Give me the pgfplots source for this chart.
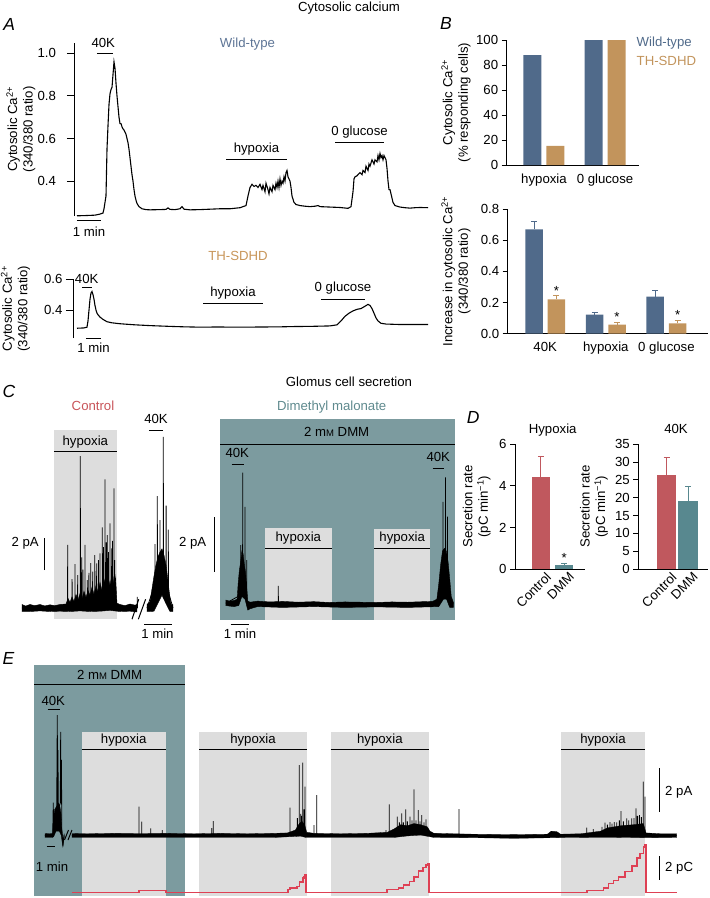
\documentclass[border=0pt]{standalone}
\usepackage{pgfplots}
\pgfplotsset{compat=1.18}
\usepackage{fontspec}
\setmainfont{Liberation Sans}
\definecolor{wt}{RGB}{80,106,138}
\definecolor{th}{RGB}{194,148,92}
\definecolor{ctrl}{RGB}{192,88,94}
\definecolor{dmm}{RGB}{88,136,143}
\definecolor{tealbg}{RGB}{124,155,159}
\definecolor{lgray}{RGB}{221,221,221}
\definecolor{redtr}{RGB}{222,64,84}
\definecolor{wttxt}{RGB}{94,117,150}
\definecolor{thtxt}{RGB}{200,150,90}
\definecolor{ctrltxt}{RGB}{200,85,90}
\definecolor{dmmtxt}{RGB}{95,138,142}
\newcommand{\fs}{\fontsize{13.2}{15.5}\selectfont}
\newcommand{\mM}{m{\fontsize{9.5}{10}\selectfont M}}
\pgfplotsset{
  every axis/.append style={font=\fs},
  tick label style={font=\fs},
  label style={font=\fs},
  onedec/.style={yticklabel style={/pgf/number format/fixed, /pgf/number format/fixed zerofill, /pgf/number format/precision=1}},
  trace/.style={scale only axis, anchor=south west, hide axis, clip=false},
  yonly/.style={scale only axis, anchor=south west, clip=false, axis x line=none, axis y line*=left,
    axis line style={-,line width=0.9pt}, tick align=outside, major tick length=7pt,
    tick style={line width=0.9pt, black}, xtick=\empty, onedec,
    /pgf/number format/assume math mode=true, ylabel style={align=center}},
  barax/.style={scale only axis, anchor=south west, clip=false, axis x line*=bottom, axis y line*=left,
    axis line style={-,line width=0.9pt}, tick align=outside, major tick length=5pt,
    tick style={line width=0.9pt,black}, x tick style={draw=none},
    /pgf/number format/assume math mode=true, ylabel style={align=center}, ybar},
}
\tikzset{lbl/.style={inner sep=0pt, text height=9.5pt, text depth=2.6pt, anchor=center},
  sb/.style={line width=1pt}}
\begin{document}
\begin{tikzpicture}[font=\fs]
\useasboundingbox (0pt,0pt) rectangle (710pt,-898pt);

% ---------------- A : wild-type
\begin{axis}[yonly, at={(74pt,-216pt)}, width=354pt, height=173.3pt,
  xmin=-7.5, xmax=877.5, ymin=0.236, ymax=1.05, ytick={0.4,0.6,0.8,1.0},
  yticklabel style={xshift=-7.5pt},
  ylabel={Cytosolic Ca\textsuperscript{2+}\\(340/380 ratio)},
  ylabel style={at={(axis description cs:-0.1501,0.5)}, anchor=center}]
\addplot[black, line width=1.1pt] coordinates {
(0,0.237) (20,0.238) (45,0.24) (57.5,0.245) (65,0.25) (67.5,0.27) (70,0.30) (72.5,0.33) (75,0.55) (77.5,0.66) (80,0.76) (82.5,0.81) (85,0.83) (87.5,0.84) (90,0.90) (92.5,0.96) (95,0.93) (97.5,0.86) (100,0.80) (102.5,0.75) (105,0.70) (107.5,0.67) (110,0.67) (112.5,0.655) (115,0.645) (117.5,0.64) (120,0.63) (122.5,0.62) (125,0.60) (127.5,0.58) (130,0.55) (132.5,0.51) (135,0.47) (137.5,0.43) (140,0.40) (142.5,0.36) (145,0.33) (147.5,0.31) (150,0.295) (155,0.28) (162.5,0.27) (172.5,0.266) (182.5,0.265) (207.5,0.266) (222.5,0.267) (227.5,0.274) (232.5,0.267) (245,0.266) (257.5,0.27) (262.5,0.28) (267.5,0.268) (282.5,0.265) (307.5,0.266) (332.5,0.268) (357.5,0.27) (382.5,0.27) (407.5,0.275) (422.5,0.285) (427.5,0.33) (432.5,0.37) (437.5,0.385) (442.5,0.375) (447.5,0.38) (452.5,0.37) (457.5,0.385) (462.5,0.36) (465,0.38) (470,0.35) (472.5,0.39) (477.5,0.36) (480,0.34) (482.5,0.37) (487.5,0.35) (490,0.38) (495,0.36) (497.5,0.39) (500,0.37) (502.5,0.40) (505,0.37) (507.5,0.41) (510,0.38) (512.5,0.40) (515,0.39) (517.5,0.42) (520,0.40) (522.5,0.44) (525,0.45) (527.5,0.42) (530,0.41) (532.5,0.40) (535,0.37) (537.5,0.33) (542.5,0.30) (547.5,0.29) (557.5,0.285) (570,0.282) (582.5,0.28) (595,0.282) (602.5,0.285) (607.5,0.28) (632.5,0.278) (657.5,0.276) (677.5,0.272) (685,0.28) (690,0.35) (692.5,0.41) (695,0.42) (700,0.425) (702.5,0.43) (707.5,0.44) (712.5,0.43) (715,0.45) (720,0.44) (722.5,0.47) (727.5,0.45) (730,0.48) (732.5,0.47) (737.5,0.50) (742.5,0.48) (745,0.50) (750,0.49) (752.5,0.52) (755,0.50) (757.5,0.53) (760,0.51) (762.5,0.52) (765,0.50) (767.5,0.52) (770,0.51) (772.5,0.50) (775,0.46) (777.5,0.40) (780,0.36) (782.5,0.36) (785,0.34) (790,0.30) (795,0.285) (807.5,0.278) (820,0.275) (832.5,0.273) (845,0.275) (857.5,0.276) (877.5,0.275)};
\draw[sb] (axis cs:50,1.0) -- (axis cs:90,1.0);
\node[lbl] at (axis cs:65.75,1.044) {40K};
\node[lbl, text=wttxt] at (axis cs:426.25,1.044) {Wild-type};
\draw[sb] (axis cs:372.5,0.5037) -- (axis cs:525,0.5037);
\node[lbl] at (axis cs:448.75,0.551) {hypoxia};
\draw[sb] (axis cs:645,0.5836) -- (axis cs:767.5,0.5836);
\node[lbl] at (axis cs:706.25,0.6306) {0 glucose};
\draw[sb] (axis cs:0,0.2172) -- (axis cs:60,0.2172);
\node[lbl] at (axis cs:30,0.1562) {1 min};
\end{axis}

% ---------------- A : TH-SDHD
\begin{axis}[yonly, at={(73pt,-338pt)}, width=355pt, height=58.9pt,
  xmin=-16, xmax=1404, ymin=0.22, ymax=0.6, ytick={0.4,0.6},
  ylabel={Cytosolic Ca\textsuperscript{2+}\\(340/380 ratio)},
  ylabel style={at={(axis description cs:-0.162,0.5)}, anchor=center}]
\addplot[black, line width=1.1pt] coordinates {
(0,0.283) (28,0.285) (40,0.29) (44,0.33) (48,0.40) (52,0.47) (56,0.51) (60,0.52) (64,0.50) (68,0.47) (72,0.43) (76,0.40) (80,0.38) (84,0.37) (92,0.355) (104,0.34) (120,0.325) (140,0.318) (172,0.312) (232,0.305) (292,0.30) (372,0.295) (430,0.292) (492,0.29) (560,0.291) (652,0.29) (740,0.291) (812,0.292) (870,0.294) (932,0.295) (1012,0.298) (1040,0.305) (1056,0.33) (1072,0.36) (1088,0.38) (1104,0.395) (1120,0.405) (1136,0.41) (1152,0.425) (1164,0.437) (1172,0.43) (1180,0.41) (1188,0.38) (1196,0.35) (1204,0.33) (1216,0.315) (1236,0.31) (1292,0.307) (1404,0.307)};
\node[lbl, text=thtxt] at (axis cs:644,0.742) {TH-SDHD};
\draw[sb] (axis cs:20,0.548) -- (axis cs:60,0.548);
\node[lbl] at (axis cs:38.8,0.5935) {40K};
\draw[sb] (axis cs:504,0.445) -- (axis cs:744,0.445);
\node[lbl] at (axis cs:624,0.51) {hypoxia};
\draw[sb] (axis cs:976,0.471) -- (axis cs:1152,0.471);
\node[lbl] at (axis cs:1064,0.542) {0 glucose};
\draw[sb] (axis cs:36,0.2194) -- (axis cs:96,0.2194);
\node[lbl] at (axis cs:66,0.148) {1 min};
\end{axis}

% ---------------- B : % responding
\begin{axis}[barax, at={(506.7pt,-165pt)}, width=132.3pt, height=125pt,
  xmin=-0.611, xmax=1.557, ymin=0, ymax=100, ytick={0,20,...,100},
  xtick={0,1}, xticklabels={hypoxia,0 glucose}, bar width=18pt,
  ylabel={Cytosolic Ca\textsuperscript{2+}\\(\% responding cells)},
  ylabel style={at={(axis description cs:-0.383,0.5)}, anchor=center}]
\addplot[fill=wt, draw=none, bar shift=-11.5pt] coordinates {(0,88) (1,100)};
\addplot[fill=th, draw=none, bar shift=11.5pt] coordinates {(0,15.4) (1,100)};
\end{axis}
\node[anchor=west, inner sep=0pt, text=wt] at (636.5pt,-42.7pt) {Wild-type};
\node[anchor=west, inner sep=0pt, text=th] at (636.5pt,-61pt) {TH-SDHD};

% ---------------- B : increase
\begin{axis}[barax, onedec, at={(507.7pt,-333.5pt)}, width=200.3pt, height=124.2pt,
  xmin=-0.619, xmax=2.686, ymin=0, ymax=0.8, ytick={0,0.2,...,0.8},
  xtick={0,1,2}, xticklabels={40K,hypoxia,0 glucose}, bar width=17.5pt,
  ylabel={Increase in cytosolic Ca\textsuperscript{2+}\\(340/380 ratio)},
  ylabel style={at={(axis description cs:-0.258,0.5)}, anchor=center}]
\addplot[fill=wt, draw=none, bar shift=-11.2pt, error bars/.cd, y dir=plus, y explicit,
  error bar style={line width=1pt, draw=wt}, error mark options={rotate=90, mark size=3pt, line width=1pt, draw=wt}]
  coordinates {(0,0.67) +- (0,0.05) (1,0.121) +- (0,0.016) (2,0.237) +- (0,0.037)};
\addplot[fill=th, draw=none, bar shift=11.2pt, error bars/.cd, y dir=plus, y explicit,
  error bar style={line width=1pt, draw=th}, error mark options={rotate=90, mark size=3pt, line width=1pt, draw=th}]
  coordinates {(0,0.22) +- (0,0.023) (1,0.057) +- (0,0.015) (2,0.066) +- (0,0.019)};
\node[anchor=base, inner sep=0pt, xshift=11.2pt] at (axis cs:0,0.247) {*};
\node[anchor=base, inner sep=0pt, xshift=11.2pt] at (axis cs:1,0.077) {*};
\node[anchor=base, inner sep=0pt, xshift=11.2pt] at (axis cs:2,0.091) {*};
\end{axis}

% ---------------- C : control
\begin{axis}[trace, at={(22pt,-624pt)}, width=153pt, height=200pt,
  xmin=0, xmax=336.6, ymin=-1, ymax=11.5]
\fill[lgray] (axis cs:70.4,-0.706) rectangle (axis cs:208.3,11.125);
\draw[sb] (axis cs:70.4,9.81) -- (axis cs:208.3,9.81);
\node[lbl] at (axis cs:139.3,10.39) {hypoxia};
\draw[sb] (axis cs:279.4,11.125) -- (axis cs:310.2,11.125);
\node[lbl] at (axis cs:294.8,11.75) {40K};
\addplot[fill=black, draw=black, line width=0.4pt] coordinates {
(0,0.22) (8,0.12) (17.6,0.22) (28,0.15) (39.6,0.22) (50,0.13) (61.6,0.2) (72,0.15) (83.6,0.22) (96.8,0.25) (101.2,0.6) (105.6,0.35) (110,0.7) (114.4,0.4) (118.8,0.85) (123.2,0.5) (127.6,0.9) (132,0.55) (136.4,1.05) (140.8,0.65) (145.2,1.1) (149.6,0.8) (154,1.3) (158.4,0.85) (162.8,1.4) (167.2,1.0) (171.6,1.6) (176,1.1) (180.4,1.8) (184.8,1.3) (189.2,1.95) (193.6,1.4) (198,2.1) (202.4,1.5) (205.7,1.9) (209,0.3) (215.6,0.22) (226.6,0.15) (237.6,0.25) (248.6,0.18) (253,0.22)
(253,-0.25) (237.6,-0.2) (215.6,-0.22) (193.6,-0.15) (171.6,-0.2) (149.6,-0.22) (127.6,-0.18) (105.6,-0.22) (83.6,-0.2) (61.6,-0.22) (39.6,-0.18) (17.6,-0.22) (0,-0.22)};
\addplot[black, line width=0.8pt] coordinates {
(0,0) (100.3,0) (100.5,3.94) (100.7,0.3) (110,0.3) (110.2,1.8) (110.4,0.3) (116.4,0.3) (116.6,2.75) (116.8,0.3) (122.3,0.3) (122.5,2.06) (122.7,0.3) (128.1,0.4) (128.3,9.5) (128.5,0.4) (131.1,0.4) (131.3,3.17) (131.5,0.4) (134,0.4) (134.2,2.4) (134.4,0.4) (138.4,0.4) (138.6,3.94) (138.8,0.4) (143.5,0.4) (143.7,1.75) (143.9,0.4) (147,0.4) (147.2,2.2) (147.4,0.4) (151,0.4) (151.2,2.8) (151.4,0.4) (155.3,0.5) (155.5,2.27) (155.7,0.5) (160,0.5) (160.2,3.3) (160.4,0.5) (164.1,0.5) (164.3,2.79) (164.5,0.5) (168,0.5) (168.2,3.0) (168.4,0.5) (171.4,0.5) (171.6,3.42) (171.8,0.5) (176.5,0.5) (176.7,5.04) (176.9,0.5) (179,0.5) (179.2,3.8) (179.4,0.5) (182.4,0.5) (182.6,8.04) (182.8,0.5) (185,0.5) (185.2,4.1) (185.4,0.5) (187.5,0.5) (187.7,4.56) (187.9,0.5) (190,0.5) (190.2,3.5) (190.4,0.5) (193.4,0.5) (193.6,5.29) (193.8,0.5) (197.1,0.5) (197.3,3.73) (197.5,0.5) (199,0.5) (199.2,4.2) (199.4,0.5) (202.2,0.5) (202.4,7.48) (202.6,0.5) (204,0.5) (204.2,3.0) (204.4,0.5) (205.9,0.5) (206.1,1.33) (206.3,0) (253.5,0) (253.7,0.7) (253.9,0)};
\addplot[fill=black, draw=black, line width=0.4pt] coordinates {
(275,0.22) (281.6,0.4) (286,1.2) (290.4,2.0) (294.8,2.7) (299.2,3.2) (303.6,3.5) (308,3.7) (312.4,3.3) (316.8,2.7) (321.2,1.7) (325.6,0.6) (327.8,0.22) (332.2,0.22)
(332.2,-0.22) (325.6,-0.22) (318,0.2) (308,0.8) (299.2,0.3) (290.4,-0.2) (281.6,-0.22) (275,-0.22)};
\addplot[black, line width=0.8pt] coordinates {
(275,0) (292.4,1.5) (292.6,4.0) (292.8,1.5) (297.5,2) (297.7,7.0) (297.9,2) (303.4,2.5) (303.6,5.5) (303.8,2.5) (310.7,2.5) (310.9,10.7) (311.1,2.5) (316.9,2) (317.1,6.4) (317.3,2) (321.7,1) (321.9,4.9) (322.1,1) (332.2,0)};
\draw[line width=1pt] (axis cs:242,-0.7) -- (axis cs:257,0.55);
\draw[line width=1pt] (axis cs:256,-0.7) -- (axis cs:272,0.55);
\draw[sb] (axis cs:50.6,2.375) -- (axis cs:50.6,4.375);
\node[lbl, anchor=east] at (axis cs:37.4,4.06) {2 pA};
\draw[sb] (axis cs:269,-1.02) -- (axis cs:329,-1.02);
\node[lbl] at (axis cs:298,-1.72) {1 min};
\end{axis}

% ---------------- C : DMM
\begin{axis}[trace, at={(220pt,-619.8pt)}, width=235pt, height=200.75pt,
  xmin=0, xmax=752, ymin=-0.6, ymax=6.7]
\fill[tealbg] (axis cs:0,-0.6) rectangle (axis cs:752,6.7);
\fill[lgray] (axis cs:144,-0.6) rectangle (axis cs:357.4,2.75);
\fill[lgray] (axis cs:493.8,-0.6) rectangle (axis cs:672,2.70);
\draw[sb] (axis cs:144,2.0) -- (axis cs:357.4,2.0);
\draw[sb] (axis cs:493.8,2.0) -- (axis cs:672,2.0);
\node[lbl] at (axis cs:250.6,2.364) {hypoxia};
\node[lbl] at (axis cs:583,2.364) {hypoxia};
\draw[sb] (axis cs:0,5.793) -- (axis cs:752,5.793);
\node[lbl] at (axis cs:373.4,6.2) {2 \mM{} DMM};
\draw[sb] (axis cs:37.4,5.065) -- (axis cs:76.8,5.065);
\node[lbl] at (axis cs:55.4,5.418) {40K};
\draw[sb] (axis cs:680.6,4.909) -- (axis cs:717.8,4.909);
\node[lbl] at (axis cs:698.6,5.27) {40K};
\addplot[fill=black, draw=black, line width=0.4pt] coordinates {
(18.2,0.12) (30,0.08) (45,0.1) (55,0.15) (58,0.7) (62,1.2) (66,1.5) (70,1.9) (74,1.8) (78,1.4) (82,1.1) (86,0.5) (89,0.08) (96,0.04) (120,0.08) (160,0.05) (200,0.07) (250,0.04) (300,0.06) (350,0.03) (400,0.05) (450,0.04) (500,0.03) (550,0.05) (600,0.04) (650,0.06) (680,0.07) (694,0.15) (700,0.7) (706,1.4) (712,1.9) (718,2.0) (724,1.9) (730,1.5) (735,0.9) (740,0.25) (746.6,0.04)
(746.6,-0.15) (735,-0.15) (725,0.15) (715,0.15) (700,-0.12) (600,-0.15) (500,-0.13) (400,-0.15) (300,-0.12) (200,-0.15) (120,-0.12) (96,-0.2) (89,-0.25) (80,0.15) (70,0.25) (60,-0.08) (45,-0.12) (30,-0.1) (18.2,-0.08)};
\addplot[black, line width=0.8pt] coordinates {
(18.2,0) (66,0.3) (66.2,2.12) (66.4,0.3) (72.4,0.5) (72.6,4.75) (72.8,0.5) (79.8,0.5) (80,3.51) (80.2,0.5) (85.2,0.3) (85.4,1.57) (85.6,0) (96,0) (186.4,0) (186.6,0.63) (186.8,0) (694,0) (713.2,0.5) (713.4,3.69) (713.6,0.5) (721.6,0.5) (721.8,4.58) (722,0.5) (727.8,0.4) (728,3.15) (728.2,0.3) (740,0) (746.6,0)};
\draw[sb] (axis cs:-19.2,1.149) -- (axis cs:-19.2,3.149);
\node[lbl, anchor=east] at (axis cs:-43.2,2.18) {2 pA};
\draw[sb] (axis cs:34.2,-0.764) -- (axis cs:93.8,-0.764);
\node[lbl] at (axis cs:64,-1.153) {1 min};
\end{axis}

% ---------------- D : hypoxia
\begin{axis}[barax, at={(515pt,-569pt)}, width=70pt, height=124.7pt,
  xmin=-1.109, xmax=1.895, ymin=0, ymax=6, ytick={0,2,4,6},
  xtick={0,1}, xticklabels={Control,DMM}, bar width=18.3pt,
  xticklabel style={rotate=45, anchor=north east, inner sep=1pt, xshift=6pt},
  ylabel={Secretion rate\\(pC min\textsuperscript{−1})},
  ylabel style={at={(axis description cs:-0.547,0.5)}, anchor=center}]
\addplot[fill=ctrl, draw=none, bar shift=0pt, error bars/.cd, y dir=plus, y explicit,
  error bar style={line width=1pt, draw=ctrl}, error mark options={rotate=90, mark size=3pt, line width=1pt, draw=ctrl}]
  coordinates {(0,4.45) +- (0,0.95)};
\addplot[fill=dmm, draw=none, bar shift=0pt, error bars/.cd, y dir=plus, y explicit,
  error bar style={line width=1pt, draw=dmm}, error mark options={rotate=90, mark size=3pt, line width=1pt, draw=dmm}]
  coordinates {(1,0.2) +- (0,0.08)};
\node[anchor=base, inner sep=0pt] at (axis cs:1,0.29) {*};
\end{axis}

% ---------------- D : 40K
\begin{axis}[barax, at={(638.3pt,-569pt)}, width=69.7pt, height=124.7pt,
  xmin=-1.312, xmax=1.930, ymin=0, ymax=35, ytick={0,5,...,35},
  xtick={0,1}, xticklabels={Control,DMM}, bar width=19.5pt,
  xticklabel style={rotate=45, anchor=north east, inner sep=1pt, xshift=6pt},
  ylabel={Secretion rate\\(pC min\textsuperscript{−1})},
  ylabel style={at={(axis description cs:-0.636,0.5)}, anchor=center}]
\addplot[fill=ctrl, draw=none, bar shift=0pt, error bars/.cd, y dir=plus, y explicit,
  error bar style={line width=1pt, draw=ctrl}, error mark options={rotate=90, mark size=3pt, line width=1pt, draw=ctrl}]
  coordinates {(0,26.3) +- (0,4.9)};
\addplot[fill=dmm, draw=none, bar shift=0pt, error bars/.cd, y dir=plus, y explicit,
  error bar style={line width=1pt, draw=dmm}, error mark options={rotate=90, mark size=3pt, line width=1pt, draw=dmm}]
  coordinates {(1,19.1) +- (0,4.1)};
\end{axis}

% ---------------- E : current
\begin{axis}[trace, at={(34pt,-896.26pt)}, width=646pt, height=232.19pt,
  xmin=0, xmax=4845, ymin=-2.8, ymax=7.9]
\fill[tealbg] (axis cs:2,-2.8) rectangle (axis cs:1132.5,7.857);
\fill[lgray] (axis cs:357.75,-2.8) rectangle (axis cs:987.75,4.783);
\fill[lgray] (axis cs:1239.75,-2.8) rectangle (axis cs:2045.25,4.783);
\fill[lgray] (axis cs:2225.25,-2.8) rectangle (axis cs:2962.5,4.783);
\fill[lgray] (axis cs:3952.5,-2.8) rectangle (axis cs:4582.5,4.783);
\draw[sb] (axis cs:357.75,3.963) -- (axis cs:987.75,3.963);
\draw[sb] (axis cs:1239.75,3.963) -- (axis cs:2045.25,3.963);
\draw[sb] (axis cs:2225.25,3.963) -- (axis cs:2962.5,3.963);
\draw[sb] (axis cs:3952.5,3.963) -- (axis cs:4582.5,3.963);
\node[lbl] at (axis cs:672.75,4.401) {hypoxia};
\node[lbl] at (axis cs:1642.5,4.401) {hypoxia};
\node[lbl] at (axis cs:2593.9,4.401) {hypoxia};
\node[lbl] at (axis cs:4267.5,4.401) {hypoxia};
\draw[sb] (axis cs:2,6.968) -- (axis cs:1132.5,6.968);
\node[lbl] at (axis cs:567.4,7.35) {2 \mM{} DMM};
\draw[sb] (axis cs:102.75,5.829) -- (axis cs:195,5.829);
\node[lbl] at (axis cs:144.75,6.138) {40K};
\addplot[fill=black, draw=black, line width=0.3pt] coordinates {
(82.5,0.09) (120,0.08) (140,0.1) (147,0.8) (155,1.2) (165,1.3) (175,1.4) (185,1.5) (195,1.3) (203,1.0) (209,0.3) (214,-0.1) (220,-0.25) (226,0.09)
(226,-0.1) (218,-0.5) (212,-0.35) (205,0.0) (190,0.2) (165,0.2) (148,-0.05) (140,-0.09) (82.5,-0.09)};
\addplot[black, line width=0.8pt] coordinates {
(82.5,0) (140,0) (144.75,1.51) (146,0.5) (170,1.0) (174.75,5.55) (176.5,1.2) (180,3.94) (182,1.2) (197,1.5) (200.25,4.78) (202,1.5) (206.25,3.48) (208,0.3) (216,-0.4) (226,0)};
\addplot[fill=black, draw=black, line width=0.3pt] coordinates {
(285,0.09) (400,0.08) (600,0.1) (800,0.09) (1000,0.1) (1200,0.08) (1400,0.1) (1600,0.08) (1800,0.1) (1900,0.12) (1960,0.25) (1990,0.55) (2010,0.65) (2030,0.5) (2045,0.15) (2100,0.1) (2300,0.08) (2500,0.1) (2650,0.15) (2700,0.3) (2750,0.5) (2800,0.45) (2850,0.55) (2900,0.5) (2950,0.4) (2970,0.2) (3000,0.1) (3300,0.06) (3600,0.04) (3850,0.06) (3880,0.2) (3920,0.18) (3950,0.06) (4100,0.08) (4250,0.2) (4300,0.35) (4400,0.45) (4500,0.5) (4570,0.55) (4590,0.12) (4700,0.08) (4820,0.08)
(4820,-0.09) (4600,-0.1) (4300,-0.08) (4000,-0.09) (3600,-0.13) (3300,-0.1) (3000,-0.09) (2900,0.02) (2800,-0.02) (2700,-0.09) (2400,-0.09) (2040,-0.09) (2000,-0.03) (1800,-0.09) (1400,-0.09) (1000,-0.09) (600,-0.09) (285,-0.09)};
\addplot[black, line width=0.8pt] coordinates {
(285,0) (787,0) (787.5,1.327) (788,0) (807.5,0) (807.75,0.636) (808,0) (875,0) (875.25,0.332) (875.5,0) (962,0) (962.25,0.253) (962.5,0) (1332.5,0) (1332.75,0.346) (1333,0) (1344.5,0) (1344.75,0.668) (1345,0) (1919.5,0) (1920,1.281) (1920.5,0) (1975,0.2) (1975.25,0.8) (1975.5,0.2) (1989.5,0.2) (1989.75,3.249) (1990,0.3) (2000,0.3) (2000.25,1.0) (2000.5,0.3) (2005,0.3) (2005.25,0.9) (2005.5,0.3) (2015,0.3) (2015.25,3.355) (2015.5,0.3) (2025,0.3) (2025.25,1.2) (2025.5,0.3) (2032.25,0.3) (2032.5,2.249) (2032.75,0.1) (2099.75,0) (2100,0.484) (2100.25,0) (2120,0) (2120.25,1.866) (2120.5,0) (2639.75,0) (2640,0.25) (2640.25,0) (2664.5,0) (2664.75,1.438) (2665,0) (2724.5,0.1) (2724.75,0.866) (2725,0.1) (2740,0.1) (2740.25,0.6) (2740.5,0.1) (2757.5,0.1) (2757.75,1.023) (2758,0.1) (2770,0.1) (2770.25,0.6) (2770.5,0.1) (2787.5,0.1) (2787.75,1.207) (2788,0.1) (2800,0.1) (2800.25,0.65) (2800.5,0.1) (2819.75,0.1) (2820,0.866) (2820.25,0.1) (2835,0.1) (2835.25,0.7) (2835.5,0.1) (2849.75,0.15) (2850,2.129) (2850.25,0.15) (2865,0.15) (2865.25,0.7) (2865.5,0.15) (2882,0.15) (2882.25,1.175) (2882.5,0.15) (2895,0.15) (2895.25,0.65) (2895.5,0.15) (2907.5,0.15) (2907.75,0.945) (2908,0.15) (2925,0.15) (2925.25,0.6) (2925.5,0.15) (2939.75,0.15) (2940,0.747) (2940.25,0.1) (3187.25,0) (3187.5,1.221) (3187.75,0) (4145,0) (4145.25,0.36) (4145.5,0) (4194.5,0) (4194.75,0.3) (4195,0) (4260,0.05) (4260.25,0.4) (4260.5,0.05) (4282.25,0.05) (4282.5,0.59) (4282.75,0.05) (4300,0.05) (4300.25,0.5) (4300.5,0.05) (4319.75,0.05) (4320,0.62) (4320.25,0.05) (4335,0.05) (4335.25,0.55) (4335.5,0.05) (4352,0.05) (4352.25,0.62) (4352.5,0.05) (4370,0.05) (4370.25,0.6) (4370.5,0.05) (4390,0.1) (4390.25,0.7) (4390.5,0.1) (4402.25,0.1) (4402.5,1.129) (4402.75,0.1) (4420,0.1) (4420.25,0.65) (4420.5,0.1) (4445,0.1) (4445.25,0.79) (4445.5,0.1) (4460,0.1) (4460.25,0.7) (4460.5,0.1) (4482.5,0.1) (4482.75,0.79) (4483,0.1) (4500,0.1) (4500.25,0.8) (4500.5,0.1) (4514.75,0.1) (4515,1.253) (4515.25,0.1) (4525,0.1) (4525.25,0.9) (4525.5,0.1) (4540.25,0.1) (4540.5,0.945) (4540.75,0.1) (4555,0.1) (4555.25,0.85) (4555.5,0.1) (4569.5,0.1) (4569.75,2.479) (4570,0.1) (4582.25,0.1) (4582.5,1.788) (4582.75,0) (4820.25,0)};
\draw[line width=1pt] (axis cs:228.75,-0.207) -- (axis cs:258.75,0.253);
\draw[line width=1pt] (axis cs:255,-0.207) -- (axis cs:285,0.253);
\draw[sb] (axis cs:4689.75,1.106) -- (axis cs:4689.75,3.106);
\node[lbl, anchor=west] at (axis cs:4732.5,2.018) {2 pA};
\draw[sb] (axis cs:95.25,-0.516) -- (axis cs:155.25,-0.516);
\node[lbl] at (axis cs:135,-1.511) {1 min};
\end{axis}

% ---------------- E : charge
\begin{axis}[trace, at={(34pt,-896.26pt)}, width=646pt, height=232.19pt,
  xmin=0, xmax=4845, ymin=-0.3, ymax=19.05]
\addplot[redtr, line width=1.6pt, const plot mark left] coordinates {
(282.75,0) (787.5,0.17) (870,0.18) (987.75,0) (1905,0.28) (1920,0.37) (1972.5,0.5) (1989.75,0.89) (2015.25,1.225) (2025,1.33) (2032.5,1.475) (2040,0) (2645.25,0.28) (2732.25,0.37) (2769.75,0.64) (2814.75,0.92) (2850,1.33) (2882.25,1.81) (2915.25,2.11) (2940,2.31) (2955,2.37) (2962.5,0) (4145.25,0.17) (4269.75,0.37) (4307.25,0.78) (4344.75,1.0) (4382.25,1.33) (4432.5,1.75) (4482.75,2.22) (4520.25,2.87) (4545,3.28) (4569.75,3.83) (4582.5,4.03) (4587.75,0) (4820.25,0)};
\draw[sb] (axis cs:4689.75,1.058) -- (axis cs:4689.75,3.058);
\node[lbl, anchor=west] at (axis cs:4732.5,2.03) {2 pC};
\end{axis}

% ---------------- titles and letters
\node[lbl] at (349pt,-8pt) {Cytosolic calcium};
\node[lbl] at (349pt,-382.7pt) {Glomus cell secretion};
\node[lbl, text=ctrltxt] at (93pt,-406.7pt) {Control};
\node[lbl, text=dmmtxt] at (331.7pt,-406.7pt) {Dimethyl malonate};
\node[lbl] at (552.7pt,-430pt) {Hypoxia};
\node[lbl] at (676pt,-430pt) {40K};
\begin{scope}[every node/.style={inner sep=0pt, font=\fontsize{17.5}{20}\selectfont\itshape}]
\node at (9.2pt,-24.2pt) {A};
\node at (446pt,-23pt) {B};
\node at (9pt,-391.5pt) {C};
\node at (473.3pt,-417.3pt) {D};
\node at (8.5pt,-658.5pt) {E};
\end{scope}
\end{tikzpicture}
\end{document}
